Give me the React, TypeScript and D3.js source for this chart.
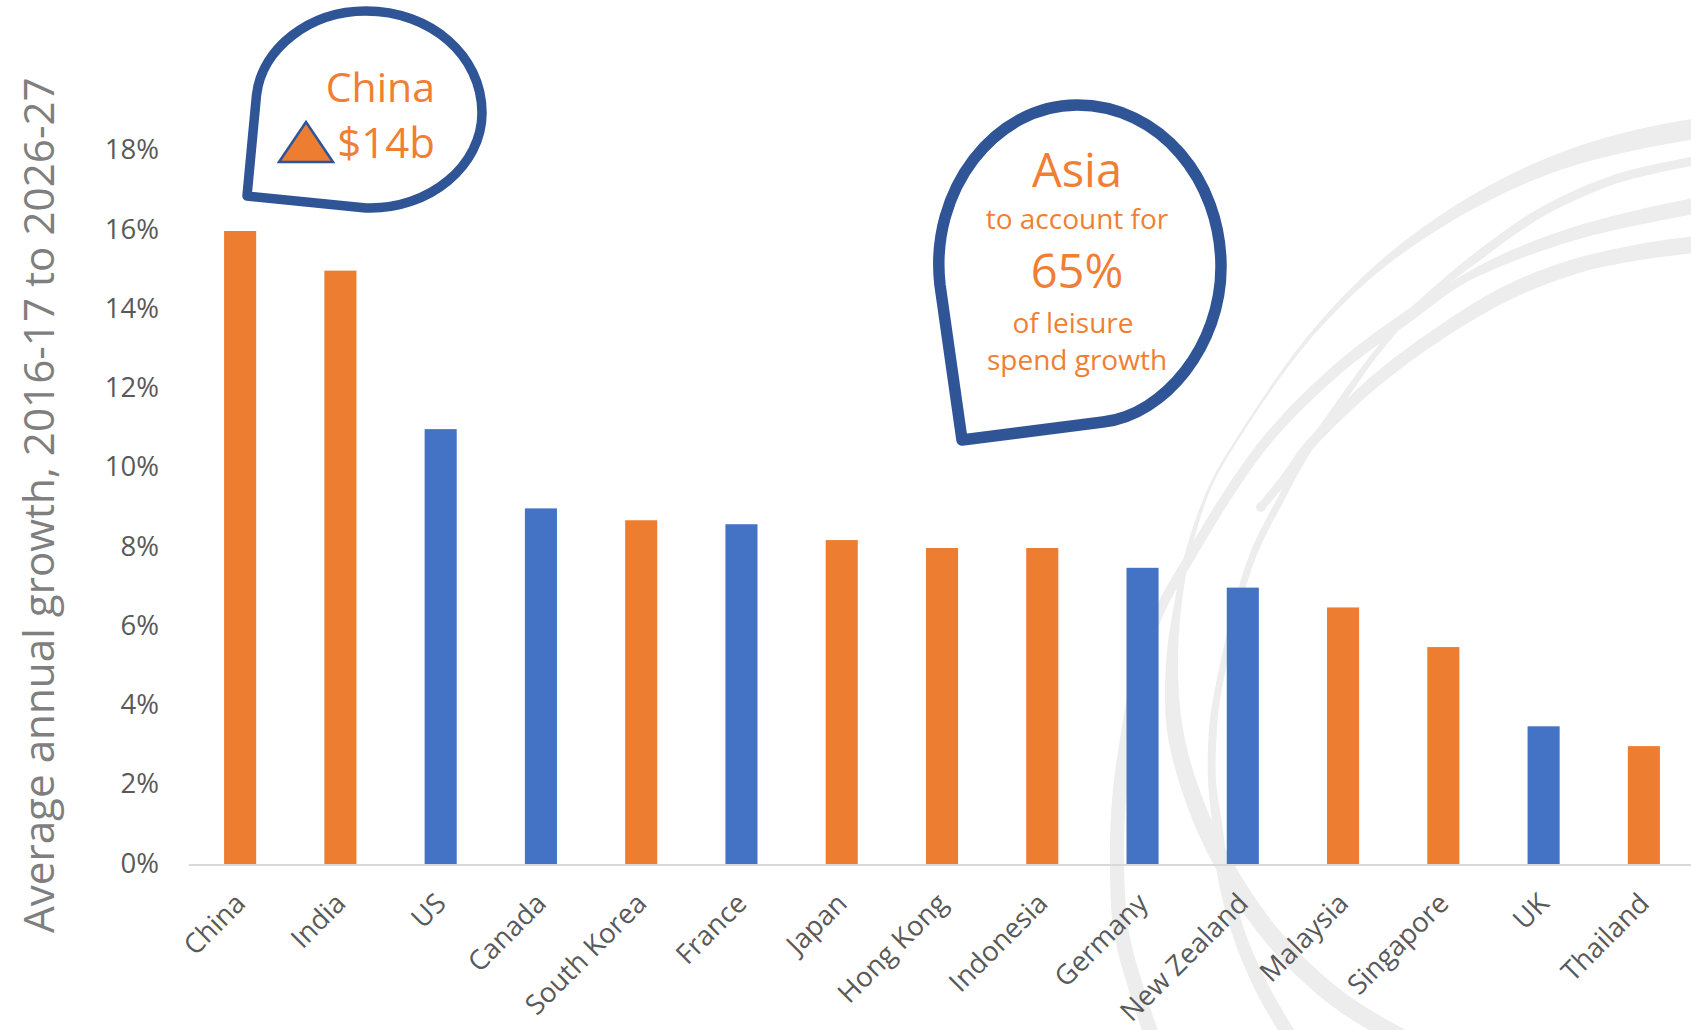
import React from "react";
import * as d3 from "d3";

const categories = ["China", "India", "US", "Canada", "South Korea", "France", "Japan", "Hong Kong", "Indonesia", "Germany", "New Zealand", "Malaysia", "Singapore", "UK", "Thailand"];
const growth = [16, 15, 11, 9, 8.7, 8.6, 8.2, 8, 8, 7.5, 7, 6.5, 5.5, 3.5, 3];
const regions = ["Asia", "Asia", "West", "West", "Asia", "West", "Asia", "Asia", "Asia", "West", "West", "Asia", "Asia", "West", "Asia"];
const yTicks = [0, 2, 4, 6, 8, 10, 12, 14, 16, 18];

const W = 1691;
const H = 1030;
const ORANGE = "#ED7D31";
const BLUE = "#4472C4";
const NAVY = "#2F5597";
const LABEL_ORANGE = "#F07F33";
const FONT = "'Open Sans', sans-serif";

type Node = [number, number, number];

// Backdrop ribbons: centre line nodes as x, y, width.
const ribbons: Node[][] = [
  [[1700, 128, 21], [1640, 139, 20], [1573, 157, 17], [1507, 184, 14], [1440, 222, 11], [1373, 272, 7], [1307, 340, 4], [1240, 435, 2.5], [1210, 487, 3], [1190, 545, 5], [1179, 597, 7], [1172, 663, 12], [1175, 730, 16], [1193, 797, 17], [1223, 863, 18], [1273, 937, 18], [1330, 993, 18], [1378, 1025, 18], [1430, 1052, 18]],
  [[1700, 160, 9], [1650, 170, 9], [1607, 182, 9], [1540, 213, 9], [1473, 260, 9], [1427, 297, 6], [1410, 313, 6], [1373, 357, 6], [1340, 403, 7], [1308, 450, 7], [1283, 495, 7], [1250, 563, 7], [1217, 697, 7], [1213, 730, 8], [1212, 780, 8], [1218, 830, 10], [1223, 873, 12], [1240, 937, 13], [1263, 990, 14], [1295, 1045, 14]],
  [[1700, 205, 16], [1640, 217, 15], [1573, 234, 13], [1507, 258, 11], [1457, 283, 8], [1410, 315, 12], [1340, 367, 11], [1273, 433, 10], [1233, 487, 10], [1190, 557, 10], [1160, 610, 10], [1140, 665, 11], [1128, 730, 13], [1119, 800, 14], [1117, 863, 14], [1121, 930, 15], [1135, 985, 15], [1150, 1030, 15], [1158, 1050, 15]],
  [[1700, 244, 17], [1640, 252, 16], [1573, 267, 15], [1507, 293, 15], [1440, 333, 13], [1373, 383, 12], [1308, 447, 10], [1285, 478, 9], [1261, 507, 8]],
];

const edge = d3.line<[number, number]>().curve(d3.curveCatmullRom.alpha(0.5));

// Builds a closed outline around a centre line whose width varies node by node.
function ribbonPath(nodes: Node[]): string {
  const left: [number, number][] = [];
  const right: [number, number][] = [];
  nodes.forEach(([x, y, w], i) => {
    const a = nodes[Math.max(i - 1, 0)];
    const b = nodes[Math.min(i + 1, nodes.length - 1)];
    const dx = b[0] - a[0];
    const dy = b[1] - a[1];
    const len = Math.hypot(dx, dy) || 1;
    const nx = -dy / len;
    const ny = dx / len;
    left.push([x + (nx * w) / 2, y + (ny * w) / 2]);
    right.push([x - (nx * w) / 2, y - (ny * w) / 2]);
  });
  const forward = edge(left) as string;
  const back = (edge(right.reverse()) as string).replace(/^M/, "L");
  return `${forward}${back}Z`;
}

const chinaBubble = "M247 196 L256.5 95 C262 48 310 11 366 11 C430 11 482 55 482 113 C482 165 430 210 366 208 Z";
const asiaBubble = "M962 440 L940 285 C929 190 995 105 1077 105 C1160 105 1221 180 1221 267 C1221 345 1165 415 1103 422 Z";

export default function App() {
  const x = d3.scaleBand<string>().domain(categories).range([190, 1694]).paddingInner(0.68).paddingOuter(0.34);
  const y = d3.scaleLinear().domain([0, 16]).range([865, 231]);
  const baseline = y(0);

  return (
    <svg width={W} height={H} viewBox={`0 0 ${W} ${H}`} style={{ position: "fixed", left: 0, top: 0, display: "block", background: "#fff" }} fontFamily={FONT}>
      <g fill="#EDEDED">
        {ribbons.map((r, i) => (
          <path key={i} d={ribbonPath(r)} />
        ))}
        <circle cx={1261} cy={507} r={5} />
      </g>

      <line x1={189} x2={W} y1={baseline} y2={baseline} stroke="#D9D9D9" strokeWidth={2} />

      {categories.map((c, i) => (
        <rect key={c} x={x(c)} y={y(growth[i])} width={x.bandwidth()} height={baseline - 1 - y(growth[i])} fill={regions[i] === "Asia" ? ORANGE : BLUE} />
      ))}

      <g fontSize={27.5} fill="#595959" textAnchor="end">
        {yTicks.map((t) => (
          <text key={t} x={159} y={y(t) + 7.5}>{`${t}%`}</text>
        ))}
      </g>

      <g fontSize={27.5} fill="#595959" textAnchor="end">
        {categories.map((c) => {
          const cx = (x(c) as number) + x.bandwidth() / 2;
          return (
            <text key={c} transform={`translate(${cx + 7},${baseline + 40}) rotate(-45)`}>
              {c}
            </text>
          );
        })}
      </g>

      <text transform="translate(54,933) rotate(-90)" fontSize={42.2} fill="#7F7F7F">
        Average annual growth, 2016-17 to 2026-27
      </text>

      <path d={chinaBubble} fill="none" stroke={NAVY} strokeWidth={9.5} strokeLinejoin="round" />
      <path d={asiaBubble} fill="none" stroke={NAVY} strokeWidth={11.5} strokeLinejoin="round" />

      <path d={d3.line()([[279, 162], [306, 122], [333, 162]]) + "Z"} fill={ORANGE} stroke={NAVY} strokeWidth={2.5} />
      <g fill={LABEL_ORANGE} textAnchor="end" fontSize={41}>
        <text x={435} y={102}>China</text>
        <text x={435} y={158} fontSize={42}>$14b</text>
      </g>

      <g fill={LABEL_ORANGE} textAnchor="middle">
        <text x={1077} y={187} fontSize={47}>Asia</text>
        <text x={1077} y={229} fontSize={28}>to account for</text>
        <text x={1077} y={288} fontSize={47}>65%</text>
        <text x={1073} y={333} fontSize={28}>of leisure</text>
        <text x={1077} y={370} fontSize={28}>spend growth</text>
      </g>
    </svg>
  );
}
